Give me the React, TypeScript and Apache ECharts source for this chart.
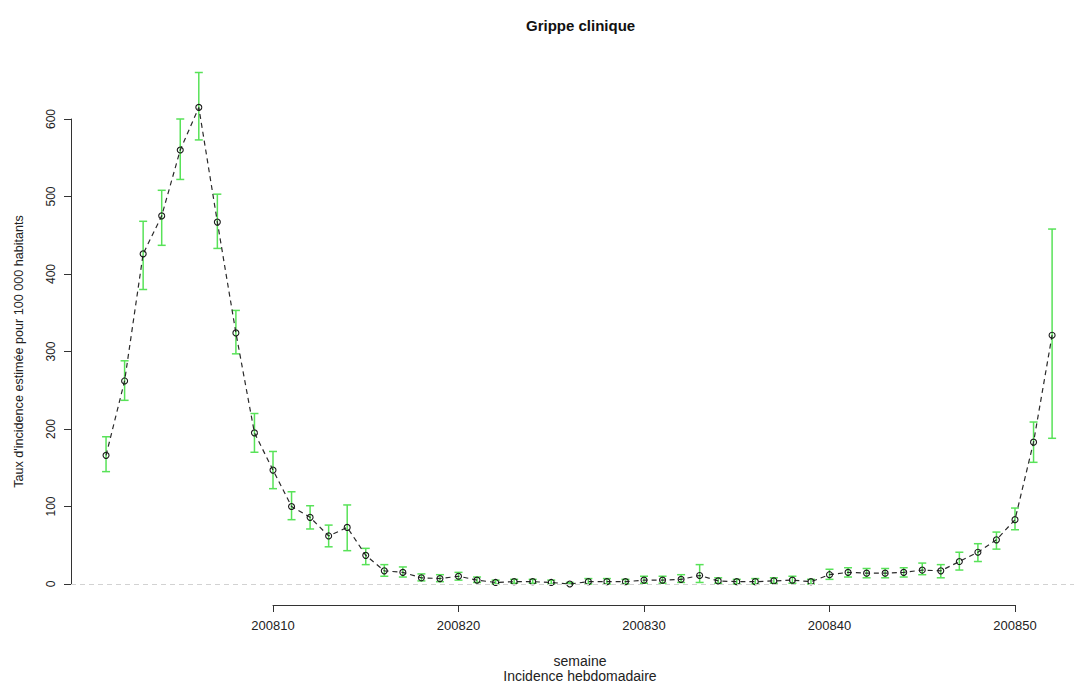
import React, { useEffect, useRef } from "react";
import * as echarts from "echarts";

// Weekly clinical flu incidence (rate per 100 000 inhabitants), 2008
const weeks = [
  200801, 200802, 200803, 200804, 200805, 200806, 200807, 200808, 200809, 200810,
  200811, 200812, 200813, 200814, 200815, 200816, 200817, 200818, 200819, 200820,
  200821, 200822, 200823, 200824, 200825, 200826, 200827, 200828, 200829, 200830,
  200831, 200832, 200833, 200834, 200835, 200836, 200837, 200838, 200839, 200840,
  200841, 200842, 200843, 200844, 200845, 200846, 200847, 200848, 200849, 200850,
  200851, 200852,
];

const incidence = [
  166, 262, 426, 475, 560, 615, 467, 324, 195, 147,
  100, 86, 62, 73, 37, 17, 15, 8, 7, 10,
  5, 2, 3, 3, 2, 0, 3, 3, 3, 5,
  5, 6, 11, 4, 3, 3, 4, 5, 3, 12,
  15, 14, 14, 15, 18, 17, 29, 41, 57, 83,
  183, 321,
];

const lowerBound = [
  145, 237, 380, 437, 522, 573, 433, 297, 170, 123,
  83, 71, 48, 43, 25, 10, 9, 4, 3, 5,
  2, 0, 1, 1, 0, 0, 0, 0, 0, 1,
  1, 2, 2, 1, 0, 0, 1, 1, 0, 6,
  9, 8, 8, 9, 12, 8, 18, 29, 45, 70,
  157, 188,
];

const upperBound = [
  190, 288, 468, 508, 600, 660, 503, 353, 220, 171,
  119, 101, 76, 102, 46, 25, 22, 13, 12, 15,
  9, 5, 6, 6, 5, 2, 7, 7, 6, 10,
  10, 12, 25, 8, 6, 7, 8, 10, 6, 19,
  21, 20, 20, 21, 27, 25, 41, 52, 67, 98,
  209, 458,
];

// Axis ranges as drawn by the tick axes (R style: lines only span the ticks)
const xTickMin = 200810;
const xTickMax = 200850;
const yTickMin = 0;
const yTickMax = 600;

// Layout in pixels
const plotLeft = 71;
const plotRight = 1089;
const plotTop = 52;
const plotBottom = 605;
const tickLeft = 273;
const tickRight = 1015;
const tickTop = 119;
const tickBottom = 584;

const GREEN = "#58e258";
const FONT = "'Liberation Sans', Arial, Helvetica, sans-serif";

export default function App() {
  const ref = useRef<HTMLDivElement>(null);

  useEffect(() => {
    if (!ref.current) return;
    const chart = echarts.init(ref.current, undefined, { renderer: "svg" });

    // Data grid covers the full plot region; its hidden axes are aligned
    // with the visible tick axes of the inner grid.
    const xPerPx = (xTickMax - xTickMin) / (tickRight - tickLeft);
    const yPerPx = (yTickMax - yTickMin) / (tickBottom - tickTop);
    const xMin = xTickMin - (tickLeft - plotLeft) * xPerPx;
    const xMax = xTickMax + (plotRight - tickRight) * xPerPx;
    const yMin = yTickMin - (plotBottom - tickBottom) * yPerPx;
    const yMax = yTickMax + (tickTop - plotTop) * yPerPx;

    const points = weeks.map((w, i) => [w, incidence[i]]);
    const bars = weeks.map((w, i) => [w, lowerBound[i], upperBound[i]]);

    chart.setOption({
      animation: false,
      backgroundColor: "#ffffff",
      textStyle: { fontFamily: FONT },
      title: {
        text: "Grippe clinique",
        left: 521,
        top: 13,
        textStyle: { fontFamily: FONT, fontSize: 15, fontWeight: "bold", color: "#111" },
      },
      grid: [
        {
          left: plotLeft,
          top: plotTop,
          width: plotRight - plotLeft,
          height: plotBottom - plotTop,
          containLabel: false,
          outerBoundsMode: "none",
        },
        {
          left: tickLeft,
          top: tickTop,
          width: tickRight - tickLeft,
          height: tickBottom - tickTop,
          containLabel: false,
          outerBoundsMode: "none",
        },
      ],
      xAxis: [
        {
          gridIndex: 0,
          type: "value",
          min: xMin,
          max: xMax,
          axisLine: { show: false, onZero: false },
          axisTick: { show: false },
          axisLabel: { show: false },
          splitLine: { show: false },
          name: "semaine\nIncidence hebdomadaire",
          nameLocation: "middle",
          nameGap: 48,
          nameTextStyle: { fontFamily: FONT, fontSize: 14, color: "#222", lineHeight: 15 },
        },
        {
          gridIndex: 1,
          type: "value",
          min: xTickMin,
          max: xTickMax,
          interval: 10,
          offset: plotBottom - tickBottom,
          axisLine: { show: true, onZero: false, lineStyle: { color: "#333", width: 1 } },
          axisTick: { show: true, length: 7, lineStyle: { color: "#333" } },
          axisLabel: {
            show: true,
            margin: 14,
            fontFamily: FONT,
            fontSize: 13,
            color: "#222",
            formatter: (v: number) => String(v),
          },
          splitLine: { show: false },
        },
      ],
      yAxis: [
        {
          gridIndex: 0,
          type: "value",
          min: yMin,
          max: yMax,
          axisLine: { show: false, onZero: false },
          axisTick: { show: false },
          axisLabel: { show: false },
          splitLine: { show: false },
        },
        {
          gridIndex: 1,
          type: "value",
          min: yTickMin,
          max: yTickMax,
          interval: 100,
          offset: tickLeft - plotLeft,
          axisLine: { show: true, onZero: false, lineStyle: { color: "#333", width: 1 } },
          axisTick: { show: true, length: 7, lineStyle: { color: "#333" } },
          axisLabel: {
            show: true,
            rotate: 90,
            margin: 14,
            fontFamily: FONT,
            fontSize: 12,
            color: "#222",
          },
          splitLine: { show: false },
          name: "Taux d'incidence estimée pour 100 000 habitants",
          nameLocation: "middle",
          nameRotate: 90,
          nameGap: 46,
          nameTextStyle: { fontFamily: FONT, fontSize: 12.6, color: "#222" },
        },
      ],
      series: [
        {
          type: "custom",
          name: "IC",
          xAxisIndex: 0,
          yAxisIndex: 0,
          data: bars,
          encode: { x: 0, y: [1, 2] },
          z: 2,
          renderItem: (params: any, api: any) => {
            const x = api.value(0);
            const lo = api.coord([x, api.value(1)]);
            const hi = api.coord([x, api.value(2)]);
            const cap = 4;
            const style = { stroke: GREEN, lineWidth: 1.5 };
            return {
              type: "group",
              children: [
                { type: "line", shape: { x1: lo[0], y1: lo[1], x2: hi[0], y2: hi[1] }, style },
                { type: "line", shape: { x1: hi[0] - cap, y1: hi[1], x2: hi[0] + cap, y2: hi[1] }, style },
                { type: "line", shape: { x1: lo[0] - cap, y1: lo[1], x2: lo[0] + cap, y2: lo[1] }, style },
              ],
            };
          },
        },
        {
          type: "line",
          name: "Incidence",
          xAxisIndex: 0,
          yAxisIndex: 0,
          data: points,
          z: 3,
          symbol: "circle",
          symbolSize: 6,
          itemStyle: { color: "rgba(0,0,0,0)", borderColor: "#1a1a1a", borderWidth: 1.1 },
          lineStyle: { color: "#2a2a2a", width: 1.2, type: [5, 4] },
          markLine: {
            silent: true,
            symbol: "none",
            label: { show: false },
            lineStyle: { color: "#d2d2d2", width: 1, type: [5, 4] },
            data: [{ yAxis: 0 }],
          },
        },
      ],
    });

    return () => chart.dispose();
  }, []);

  return (
    <div
      ref={ref}
      style={{ position: "fixed", left: 0, top: 0, width: 1074, height: 684 }}
    />
  );
}
